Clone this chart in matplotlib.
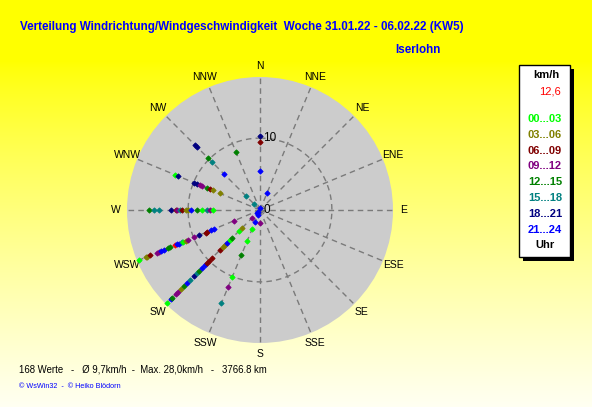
import numpy as np
import matplotlib
matplotlib.use("Agg")
import matplotlib.pyplot as plt
from matplotlib.patches import Rectangle

# ---------------- data ----------------
directions = ["N", "NNE", "NE", "ENE", "E", "ESE", "SE", "SSE",
              "S", "SSW", "SW", "WSW", "W", "WNW", "NW", "NNW"]
slot_labels = ["00...03", "03...06", "06...09", "09...12",
               "12...15", "15...18", "18...21", "21...24"]
slot_colors = ["#00ff00", "#808000", "#800000", "#800080",
               "#008000", "#008080", "#000080", "#0000ff"]
current_value = "12,6"
ring_values = [0, 10]
r_max = 18.5

# each point: direction name, radius, time slot (0..7, -1 = current value)
point_dir = (["N"] * 4 + ["NNE"] + ["NNW"] + ["NW"] * 7 + ["WNW"] * 10 + ["W"] * 16
             + ["WSW"] * 24 + ["SW"] * 28 + ["SSW"] * 8 + ["S"])
point_r = [10.3, 9.4, 5.4, 0.3,
           2.6,
           8.7,
           12.8, 12.3, 10.3, 9.5, 7.1, 2.7, 1.25,
           12.8, 12.3, 9.9, 9.5, 9.0, 8.7, 8.0, 7.5, 7.1, 6.0,
           15.5, 14.8, 14.1, 12.4, 11.7, 11.5, 11.1, 10.9, 10.3, 10.0, 9.6, 8.8, 8.1, 7.4, 6.9, 6.5,
           18.2, 17.2, 17.0, 16.5, 15.5, 15.2, 14.9, 14.4, 13.9, 13.5, 12.8, 12.5, 12.2, 11.8,
           11.6, 11.1, 10.8, 9.9, 9.2, 8.2, 8.0, 7.4, 7.0, 3.9,
           18.3, 17.6, 17.3, 16.5, 16.1, 15.5, 15.0, 14.3, 13.7, 13.0, 12.3, 12.0, 11.4, 10.9,
           10.5, 10.0, 9.5, 7.9, 7.3, 6.8, 6.4, 5.9, 5.6, 4.1, 3.6, 1.6, 0.6, 0.4,
           14.0, 11.6, 10.1, 6.8, 4.7, 2.8, 1.8, 0.8,
           1.8]
point_slot = [6, 2, 7, 7,
              7,
              4,
              6, 6, 4, 5, 7, 5, 5,
              0, 6, 6, 6, 3, 3, 4, 2, 1, 1,
              4, 5, 5, 6, 2, 3, 5, 2, 1, 1, 7, 4, 0, 5, 3, 0,
              0, 1, 1, 2, 3, 3, 7, 7, 4, 4, -1, 7, 7, 5,
              0, 1, 3, 3, 6, 2, 2, 7, 7, 3,
              0, 7, 4, 3, 3, 1, 4, 7, 5, 6, 5, 4, 7, 7,
              2, 2, 2, 2, 1, 1, 7, 0, 4, 0, 1, 3, 7, 7,
              5, 3, 0, 4, 0, 0, 7, 7,
              3]

title = "Verteilung Windrichtung/Windgeschwindigkeit  Woche 31.01.22 - 06.02.22 (KW5)"
station = "Iserlohn"
stats_text = "168 Werte   -   \u00d8 9,7km/h  -  Max. 28,0km/h   -   3766.8 km"
credit_text = "\u00a9 WsWin32  -  \u00a9 Heiko Bl\u00f6dorn"

FONT = "Liberation Sans"

# ---------------- figure ----------------
W, H = 592, 407
fig = plt.figure(figsize=(W / 100, H / 100), dpi=100)

# background gradient yellow -> pale
bg = fig.add_axes([0, 0, 1, 1], zorder=-10)
t = np.linspace(0, 1, 256)
grad = np.clip((t - 0.15) / 0.85, 0, 1) ** 0.8
img = np.zeros((256, 2, 3))
img[:, :, 0] = 1.0
img[:, :, 1] = 1.0
img[:, :, 2] = (0.95 * grad)[:, None]
bg.imshow(img, aspect="auto", extent=[0, 1, 0, 1], origin="upper")
bg.set_axis_off()

cx, cy, R = 260, 210, 133
ax = fig.add_axes([(cx - R) / W, (H - cy - R) / H, 2 * R / W, 2 * R / H],
                  projection="polar")
ax.set_theta_zero_location("N")
ax.set_theta_direction(-1)
ax.set_ylim(0, r_max)
ax.set_facecolor("#cccccc")
ax.spines["polar"].set_visible(False)
ax.grid(False)
ax.set_xticks([])
ax.set_yticks([])

angles = {d: np.deg2rad(i * 22.5) for i, d in enumerate(directions)}
grid_kw = dict(color="#7a7a7a", lw=1.0, ls=(0, (4, 3)), zorder=1)
for d in directions:
    ax.plot([angles[d], angles[d]], [0, r_max], **grid_kw)
th = np.linspace(0, 2 * np.pi, 361)
for rv in ring_values:
    if rv > 0:
        ax.plot(th, np.full_like(th, rv), **grid_kw)

label_r = r_max * 144 / 133
for d in directions:
    ax.text(angles[d], label_r, d, ha="center", va="center", fontsize=7.5,
            family=FONT, clip_on=False)
for rv in ring_values:
    ax.annotate(str(rv), xy=(0, rv), xytext=(2.5, 0), textcoords="offset points",
                ha="left", va="center", fontsize=8.5, family=FONT, zorder=4)

for d, r, s in zip(point_dir, point_r, point_slot):
    col = "#ff0000" if s < 0 else slot_colors[s]
    ax.plot(angles[d], r, marker="D", ms=2.7, color=col, mec=col, mew=0.6,
            ls="none", zorder=3, clip_on=False)

# titles
fig.text(20 / W, 1 - 27 / H, title, color="#0000ff", family=FONT, weight="bold",
         fontsize=8.4, ha="left", va="center")
fig.text(395 / W, 1 - 50 / H, station, color="#0000ff", family=FONT, weight="bold",
         fontsize=8.4, ha="left", va="center")
fig.text(19 / W, 1 - 369 / H, stats_text, color="black", family=FONT,
         fontsize=6.9, ha="left", va="center")
fig.text(19 / W, 1 - 386 / H, credit_text, color="#0000ff", family=FONT,
         fontsize=5.2, ha="left", va="center")

# legend box with shadow
bx0, by0, bx1, by1 = 519, 65, 570, 257
sh = 4
fig.patches.append(Rectangle(((bx0 + sh) / W, 1 - (by1 + sh) / H), (bx1 - bx0) / W,
                             (by1 - by0) / H, transform=fig.transFigure,
                             facecolor="black", edgecolor="none", zorder=5))
fig.patches.append(Rectangle((bx0 / W, 1 - by1 / H), (bx1 - bx0) / W, (by1 - by0) / H,
                             transform=fig.transFigure, facecolor="white",
                             edgecolor="black", lw=1, zorder=6))
fig.text(546 / W, 1 - 75 / H, "km/h", family=FONT, weight="bold", fontsize=8,
         ha="center", va="center", zorder=7)
fig.text(561 / W, 1 - 92 / H, current_value, color="#ff0000", family=FONT,
         fontsize=8, ha="right", va="center", zorder=7)
y0, dy = 119, 15.8
for i, (lab, col) in enumerate(zip(slot_labels, slot_colors)):
    fig.text(545 / W, 1 - (y0 + i * dy) / H, lab, color=col, family=FONT,
             weight="bold", fontsize=8, ha="center", va="center", zorder=7)
fig.text(545 / W, 1 - (y0 + 8 * dy) / H, "Uhr", family=FONT, weight="bold",
         fontsize=8, ha="center", va="center", zorder=7)

fig.savefig("out.png", dpi=100)
